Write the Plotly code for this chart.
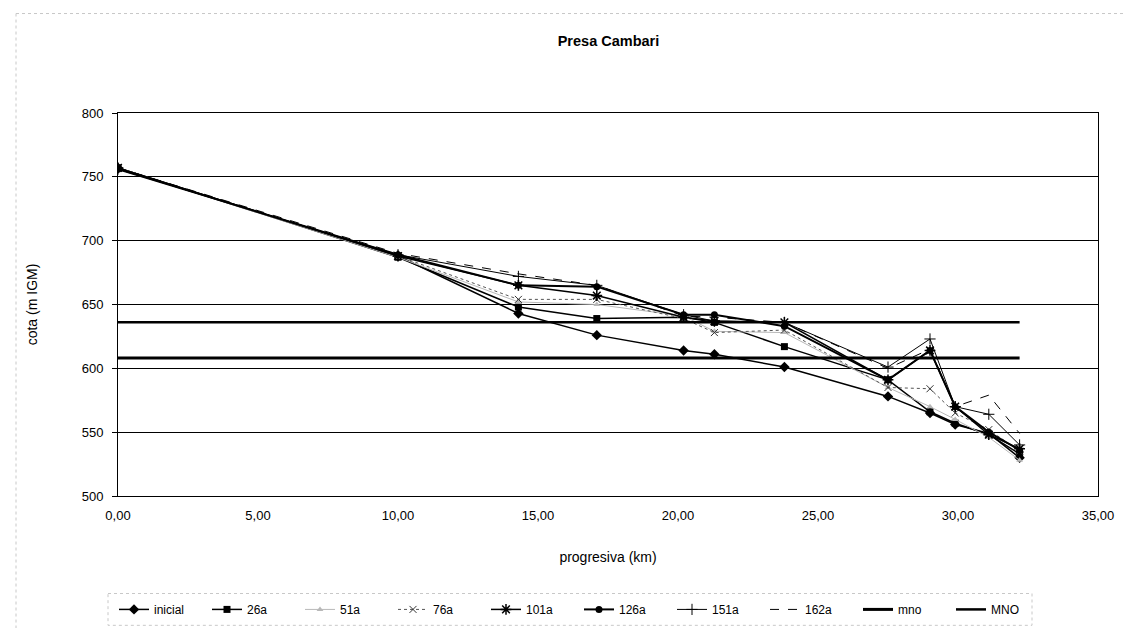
import plotly.graph_objects as go

# ---- data ----
progresiva = [0.0, 10.0, 14.3, 17.1, 20.2, 21.3, 23.8, 27.5, 29.0, 29.9, 31.1, 32.2]
inicial = [757, 688, 643, 626, 614, 611, 601, 578, 565, 556, 549, 530]
a26 = [757, 687, 648, 639, 640, 636, 617, 591, 566, 557, 548, 533]
a51 = [757, 687, 652, 650, 641, 629, 628, 585, 570, 560, 546, 528]
a76 = [757, 688, 654, 654, 639, 628, 630, 585, 584, 565, 552, 535]
a101 = [757, 688, 665, 657, 640, 637, 636, 591, 614, 570, 548, 537]
a126 = [756, 689, 665, 664, 642, 642, 633, 591, 614, 570, 550, 536]
a151 = [756, 689, 672, 665, 642, 637, 636, 601, 623, 570, 564, 540]
a162 = [757, 690, 674, 665, 641, 640, 636, 600, 615, 570, 579, 549]
mno_x = [0.0, 32.2]
mno_y = [608, 608]
MNO_y = [636, 636]

series_names = ["inicial", "26a", "51a", "76a", "101a", "126a", "151a", "162a"]
series_vals = [inicial, a26, a51, a76, a101, a126, a151, a162]

styles = {
    "inicial": dict(line=dict(color="black", width=1.5), marker=dict(symbol="diamond", size=8, color="black")),
    "26a": dict(line=dict(color="black", width=1.5), marker=dict(symbol="square", size=7, color="black")),
    "51a": dict(line=dict(color="#b8b8b8", width=1), marker=dict(symbol="triangle-up", size=6, color="#b8b8b8")),
    "76a": dict(line=dict(color="#555555", width=1, dash="dot"),
                marker=dict(symbol="x-thin-open", size=7, color="#333333", line=dict(width=1, color="#333333"))),
    "101a": dict(line=dict(color="black", width=1.5),
                 marker=dict(symbol="asterisk-open", size=9, color="black", line=dict(width=1.5, color="black"))),
    "126a": dict(line=dict(color="black", width=2), marker=dict(symbol="circle", size=7, color="black")),
    "151a": dict(line=dict(color="black", width=1),
                 marker=dict(symbol="cross-thin-open", size=8, color="black", line=dict(width=1, color="black"))),
    "162a": dict(line=dict(color="black", width=1, dash="dash"), marker=dict(size=1, color="black")),
}

fig = go.Figure()
for name, vals in zip(series_names, series_vals):
    st = styles[name]
    mode = "lines" if name == "162a" else "lines+markers"
    fig.add_trace(go.Scatter(x=progresiva, y=vals, name=name, mode=mode, **st))

fig.add_trace(go.Scatter(x=mno_x, y=mno_y, name="mno", mode="lines", line=dict(color="black", width=3)))
fig.add_trace(go.Scatter(x=mno_x, y=MNO_y, name="MNO", mode="lines", line=dict(color="black", width=2.5)))

W, H = 1133, 628
L, R, T, B = 110, 43, 105, 138
pw, ph = W - L - R, H - T - B


def px(x):
    return (x - L) / pw


def py(y):
    return (H - B - y) / ph


# faint dashed scan borders (outer chart frame and legend box)
border = dict(color="#c8c8c8", width=1, dash="dot")
shapes = [
    dict(type="line", xref="paper", yref="paper", x0=px(8), x1=px(1127), y0=py(5), y1=py(5), line=border),
    dict(type="line", xref="paper", yref="paper", x0=px(8), x1=px(8), y0=py(5), y1=py(628), line=border),
    dict(type="line", xref="paper", yref="paper", x0=px(1127), x1=px(1127), y0=py(5), y1=py(628), line=border),
    dict(type="rect", xref="paper", yref="paper", x0=px(100), x1=px(1024), y0=py(588), y1=py(620), line=border),
]

fig.update_layout(
    width=W, height=H,
    margin=dict(l=L, r=R, t=T, b=B),
    paper_bgcolor="white", plot_bgcolor="white",
    separators=",.",
    font=dict(family="Liberation Sans, Arial, sans-serif", size=13, color="black"),
    title=dict(text="<b>Presa Cambari</b>", x=0.53, xanchor="center", y=0.947, yanchor="middle",
               font=dict(size=14.5, color="black")),
    showlegend=True,
    legend=dict(orientation="h", x=px(106), xanchor="left", y=py(604), yanchor="middle",
                font=dict(size=12), entrywidth=48, entrywidthmode="pixels",
                tracegroupgap=0, bgcolor="rgba(0,0,0,0)"),
    shapes=shapes,
)
fig.update_xaxes(range=[0, 35], dtick=5, tickformat=".2f", showgrid=False, zeroline=False,
                 showline=True, linecolor="black", linewidth=1, mirror=True,
                 ticks="", ticklabelstandoff=7,
                 title=dict(text="progresiva (km)", standoff=30, font=dict(size=14)),
                 tickfont=dict(size=13))
fig.update_yaxes(range=[500, 800], dtick=50, showgrid=True, gridcolor="black", gridwidth=1,
                 zeroline=False, showline=True, linecolor="black", linewidth=1, mirror=True,
                 ticks="outside", ticklen=5, tickcolor="black", ticklabelstandoff=6,
                 title=dict(text="cota (m IGM)", standoff=40, font=dict(size=14)),
                 tickfont=dict(size=13))

fig.write_html("out.html")
